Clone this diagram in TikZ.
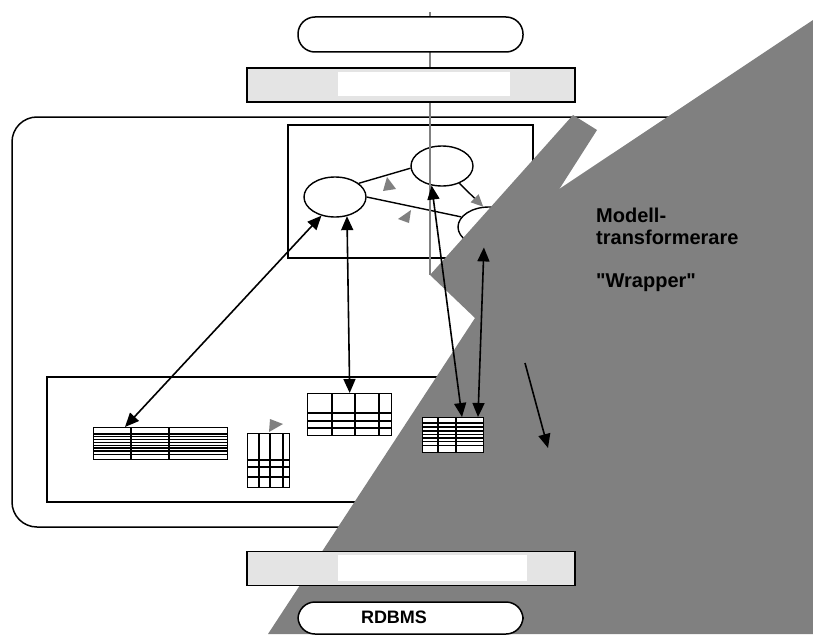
\documentclass[tikz,border=0pt]{standalone}
\usepackage{fontspec}
\setmainfont{Liberation Sans}
\usetikzlibrary{arrows.meta,calc,shapes.geometric}
\definecolor{wrapgray}{HTML}{808080}
\definecolor{barfill}{HTML}{E4E4E4}
\newcommand{\dq}{\XeTeXglyph\XeTeXcharglyph"22\relax}
\tikzset{
  outline/.style={draw=black, line width=1.5pt},
  pill/.style={rectangle, rounded corners=17pt, draw=black, line width=1.5pt, fill=white,
    minimum width=225pt, minimum height=35pt, inner sep=0pt},
  bar/.style={rectangle, draw=black, line width=1.5pt, fill=barfill,
    minimum width=328pt, minimum height=34pt, inner sep=0pt},
  entity/.style={ellipse, draw=black, line width=1.4pt, minimum width=62pt, minimum height=40pt, inner sep=0pt},
  tablebox/.style={rectangle, draw=black, line width=1.4pt, fill=white, inner sep=0pt, anchor=north west},
  gridline/.style={line width=1.1pt},
  relation/.style={line width=1.4pt},
  flagline/.style={line width=1.4pt, -{Triangle[color=wrapgray, length=12pt, width=11pt]}},
  link/.style={line width=1.6pt, {Triangle[length=14pt,width=12pt]}-{Triangle[length=14pt,width=12pt]}},
  oneway/.style={line width=1.6pt, -{Triangle[length=14pt,width=12pt]}},
  flag/.style={fill=wrapgray},
  axis/.style={draw=wrapgray, line width=1.5pt},
  wrapper/.style={fill=wrapgray},
  sidetext/.style={font=\fontsize{20}{21.5}\selectfont\bfseries, align=left, anchor=north west, inner sep=0pt},
  dbtext/.style={font=\fontsize{18}{20}\selectfont\bfseries, inner sep=0pt}
}
% columns and rows of a table node, offsets from its north west corner
\newcommand{\tablegrid}[3]{%
  \foreach \c in {#2} \draw[gridline] ([xshift=\c pt]#1.north west) -- ([xshift=\c pt]#1.south west);
  \foreach \r in {#3} \draw[gridline] ([yshift=-\r pt]#1.north west) -- ([yshift=-\r pt]#1.north east);
}

\begin{document}
\begin{tikzpicture}[x=1pt,y=-1pt]
\useasboundingbox (0,0) rectangle (813,634);
\fill[white] (0,0) rectangle (813,634);

% containers
\draw[outline, rounded corners=25pt] (12,117) rectangle (700,527);
\draw[outline] (47,377) rectangle (600,502);
\draw[outline] (288,125) rectangle (533,258);

% conceptual model
\node[entity] (entA) at (335,197) {};
\node[entity] (entB) at (442,166) {};
\node[entity] (entC) at (489,227) {};
\draw[relation] (entA.30) -- (entB.184);
\draw[relation] (entA.east) -- (entC.160);
\draw[flagline] (entB.-45) -- (entC.106);
\fill[flag] (387,177) -- (383,191) -- (396,189) -- cycle;
\fill[flag] (411,210) -- (398,219) -- (409,223) -- cycle;

\coordinate (axisTop) at (430,12);
\coordinate (axisEnd) at (430,275);
\draw[axis] (axisTop) -- (axisEnd);

% wrapper
\fill[wrapper] (813,20) -- (430,275) -- (475,318) -- (268,634) -- (813,634) -- cycle;
\fill[wrapper] (573,115) -- (597,130) -- (530,235) -- (430,275) -- cycle;

% interfaces
\node[pill] (topPill) at (410.5,34.5) {};
\node[bar] (topBar) at (411,85) {};
\fill[white] (338,72) rectangle (510,96);
\node[bar] (lowBar) at (411,568.5) {};
\fill[white] (338,555) rectangle (527,581);
\node[pill, minimum height=32pt] (dbPill) at (410.5,618) {};
\node[dbtext] (dbName) at (394,617) {RDBMS};

% relational tables
\node[tablebox, minimum width=134pt, minimum height=32pt] (tabWide) at (93,427) {};
\tablegrid{tabWide}{38,76}{7,9.5,12.5,15.5,18.5,21,24,27.5}
\node[tablebox, minimum width=42pt, minimum height=54pt] (tabTall) at (247,433) {};
\tablegrid{tabTall}{12,23,36}{27,34,44}
\fill[flag] (270,419) -- (283,424) -- (269,432) -- cycle;
\node[tablebox, minimum width=84pt, minimum height=42pt] (tabMid) at (307,393) {};
\tablegrid{tabMid}{25,48,72}{20,28,35}
\node[tablebox, minimum width=61pt, minimum height=35pt] (tabR) at (422,417) {};
\tablegrid{tabR}{16,34}{6,10,14,17.5,21,24.5,28.5}

% mappings
\draw[link] (entA.234) -- ([xshift=32pt]tabWide.north west);
\draw[link] (entA.302) -- (tabMid.north);
\draw[link] (entB.242) -- ([xshift=40pt]tabR.north west);
\draw[link] (entC.256) -- ([xshift=56pt]tabR.north west);
\coordinate (flowS) at (525,363);
\coordinate (flowE) at (548,448);
\draw[oneway] (flowS) -- (flowE);

\node[sidetext] (wrapName) at (596,208) {Modell-\\transformerare\\[21.5pt]\dq Wrapper\dq};

\end{tikzpicture}
\end{document}
